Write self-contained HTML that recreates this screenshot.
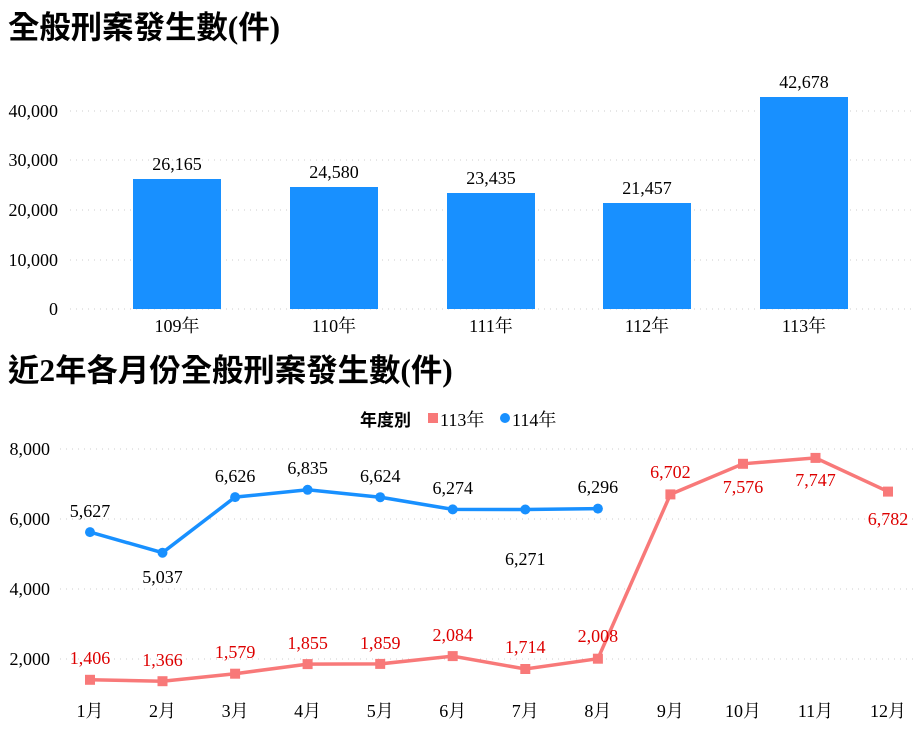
<!DOCTYPE html>
<html><head><meta charset="utf-8"><style>
body{margin:0;background:#fff;}
svg{display:block;font-family:"Liberation Serif","Noto Serif CJK SC",serif;}
.t{font-family:"Liberation Serif","Noto Sans CJK TC",sans-serif;font-weight:bold;}
.l{font-family:"Liberation Sans","Noto Sans CJK TC",sans-serif;font-weight:bold;}
.g{stroke:#ccc;stroke-dasharray:1 5;stroke-width:1;}
</style></head><body>
<svg width="922" height="729" viewBox="0 0 922 729">
<text x="8" y="38" class="t" font-size="31.4">全般刑案發生數(件)</text>
<g font-size="18" text-anchor="end">
<text x="58" y="117">40,000</text><text x="58" y="166">30,000</text><text x="58" y="216">20,000</text><text x="58" y="266">10,000</text><text x="58" y="315">0</text>
</g>
<line class="g" x1="70" y1="111" x2="916" y2="111"/><line class="g" x1="70" y1="160" x2="916" y2="160"/><line class="g" x1="70" y1="210" x2="916" y2="210"/><line class="g" x1="70" y1="260" x2="916" y2="260"/><line class="g" x1="70" y1="309" x2="916" y2="309"/>
<g fill="#1890ff">
<rect x="133" y="179" width="88" height="130"/><rect x="290" y="187" width="88" height="122"/><rect x="447" y="193" width="88" height="116"/><rect x="603" y="203" width="88" height="106"/><rect x="760" y="97" width="88" height="212"/>
</g>
<g font-size="18" text-anchor="middle">
<text x="177" y="170">26,165</text><text x="334" y="178">24,580</text><text x="491" y="184">23,435</text><text x="647" y="194">21,457</text><text x="804" y="88">42,678</text>
<text x="177" y="332">109年</text><text x="334" y="332">110年</text><text x="491" y="332">111年</text><text x="647" y="332">112年</text><text x="804" y="332">113年</text>
</g>
<text x="8" y="381" class="t" font-size="31.4">近2年各月份全般刑案發生數(件)</text>
<text x="360" y="426" class="l" font-size="17">年度別</text>
<rect x="428" y="413" width="10" height="10" fill="#f87979"/>
<text x="440" y="426" font-size="18">113年</text>
<circle cx="505" cy="418" r="5" fill="#1890ff"/>
<text x="512" y="426" font-size="18">114年</text>
<g font-size="18" text-anchor="end">
<text x="50" y="455">8,000</text><text x="50" y="525">6,000</text><text x="50" y="595">4,000</text><text x="50" y="665">2,000</text>
</g>
<line class="g" x1="60" y1="449" x2="916" y2="449"/><line class="g" x1="60" y1="519" x2="916" y2="519"/><line class="g" x1="60" y1="589" x2="916" y2="589"/><line class="g" x1="60" y1="659" x2="916" y2="659"/>
<polyline fill="none" stroke="#1890ff" stroke-width="3.5" points="90,532.1 162.5,552.7 235.1,497.1 307.6,489.8 380.2,497.2 452.7,509.4 525.3,509.5 597.9,508.6"/>
<g fill="#1890ff"><circle cx="90" cy="532.1" r="5"/><circle cx="162.5" cy="552.7" r="5"/><circle cx="235.1" cy="497.1" r="5"/><circle cx="307.6" cy="489.8" r="5"/><circle cx="380.2" cy="497.2" r="5"/><circle cx="452.7" cy="509.4" r="5"/><circle cx="525.3" cy="509.5" r="5"/><circle cx="597.9" cy="508.6" r="5"/></g>
<polyline fill="none" stroke="#f87979" stroke-width="3.5" points="90,679.8 162.5,681.2 235.1,673.7 307.6,664.1 380.2,663.9 452.7,656.1 525.3,669 597.9,658.7 670.4,494.4 743,463.8 815.5,457.9 888,491.6"/>
<g fill="#f87979">
<rect x="85" y="674.8" width="10" height="10"/><rect x="157.5" y="676.2" width="10" height="10"/><rect x="230.1" y="668.7" width="10" height="10"/><rect x="302.6" y="659.1" width="10" height="10"/><rect x="375.2" y="658.9" width="10" height="10"/><rect x="447.7" y="651.1" width="10" height="10"/><rect x="520.3" y="664" width="10" height="10"/><rect x="592.9" y="653.7" width="10" height="10"/><rect x="665.4" y="489.4" width="10" height="10"/><rect x="738" y="458.8" width="10" height="10"/><rect x="810.5" y="452.9" width="10" height="10"/><rect x="883" y="486.6" width="10" height="10"/>
</g>
<g font-size="18" text-anchor="middle">
<text x="90" y="517">5,627</text><text x="162.5" y="583">5,037</text><text x="235.1" y="482">6,626</text><text x="307.6" y="474">6,835</text><text x="380.2" y="482">6,624</text><text x="452.7" y="494">6,274</text><text x="525.3" y="565">6,271</text><text x="597.9" y="493">6,296</text>
</g>
<g font-size="18" text-anchor="middle" fill="#dd0000">
<text x="90" y="664">1,406</text><text x="162.5" y="666">1,366</text><text x="235.1" y="658">1,579</text><text x="307.6" y="649">1,855</text><text x="380.2" y="649">1,859</text><text x="452.7" y="641">2,084</text><text x="525.3" y="653">1,714</text><text x="597.9" y="642">2,008</text><text x="670.4" y="478">6,702</text><text x="743" y="493">7,576</text><text x="815.5" y="486">7,747</text><text x="888" y="525">6,782</text>
</g>
<g font-size="18" text-anchor="middle">
<text x="90" y="717">1月</text><text x="162.5" y="717">2月</text><text x="235.1" y="717">3月</text><text x="307.6" y="717">4月</text><text x="380.2" y="717">5月</text><text x="452.7" y="717">6月</text><text x="525.3" y="717">7月</text><text x="597.9" y="717">8月</text><text x="670.4" y="717">9月</text><text x="743" y="717">10月</text><text x="815.5" y="717">11月</text><text x="888" y="717">12月</text>
</g>
</svg>
</body></html>
